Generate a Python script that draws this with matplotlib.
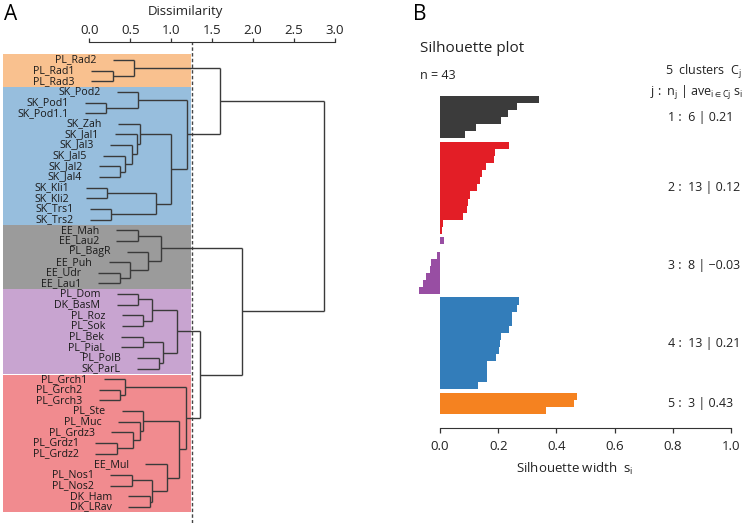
import matplotlib
matplotlib.use('Agg')
import matplotlib.pyplot as plt
from matplotlib.patches import Rectangle
import matplotlib.transforms as mtransforms

plt.rcParams['font.family'] = ['Open Sans', 'DejaVu Sans']
plt.rcParams['mathtext.fontset'] = 'custom'
plt.rcParams['mathtext.rm'] = 'Open Sans'
plt.rcParams['mathtext.it'] = 'Open Sans'
plt.rcParams['mathtext.bf'] = 'Open Sans'

# ---------------- Data: dendrogram (panel A) ----------------
leaf_labels = [
    "PL_Rad2", "PL_Rad1", "PL_Rad3",
    "SK_Pod2", "SK_Pod1", "SK_Pod1.1", "SK_Zah", "SK_Jal1", "SK_Jal3", "SK_Jal5",
    "SK_Jal2", "SK_Jal4", "SK_Kli1", "SK_Kli2", "SK_Trs1", "SK_Trs2",
    "EE_Mah", "EE_Lau2", "PL_BagR", "EE_Puh", "EE_Udr", "EE_Lau1",
    "PL_Dom", "DK_BasM", "PL_Roz", "PL_Sok", "PL_Bek", "PL_PiaL", "PL_PolB", "SK_ParL",
    "PL_Grch1", "PL_Grch2", "PL_Grch3", "PL_Ste", "PL_Muc", "PL_Grdz3", "PL_Grdz1",
    "PL_Grdz2", "EE_Mul", "PL_Nos1", "PL_Nos2", "DK_Ham", "DK_LRav",
]

# merges: (left, right, height); "#k" refers to the k-th merge
merges = [
    ("PL_Rad1", "PL_Rad3", 0.29),   # 0
    ("PL_Rad2", "#0", 0.55),        # 1
    ("SK_Pod1", "SK_Pod1.1", 0.21), # 2
    ("SK_Pod2", "#2", 0.60),        # 3
    ("SK_Jal2", "SK_Jal4", 0.38),   # 4
    ("SK_Jal5", "#4", 0.43),        # 5
    ("SK_Jal3", "#5", 0.52),        # 6
    ("SK_Jal1", "#6", 0.58),        # 7
    ("SK_Zah", "#7", 0.62),         # 8
    ("SK_Kli1", "SK_Kli2", 0.22),   # 9
    ("SK_Trs1", "SK_Trs2", 0.27),   # 10
    ("#9", "#10", 0.82),            # 11
    ("#8", "#11", 1.00),            # 12
    ("#3", "#12", 1.19),            # 13
    ("#1", "#13", 1.59),            # 14
    ("EE_Mah", "EE_Lau2", 0.59),    # 15
    ("EE_Udr", "EE_Lau1", 0.37),    # 16
    ("EE_Puh", "#16", 0.50),        # 17
    ("PL_BagR", "#17", 0.72),       # 18
    ("#15", "#18", 0.87),           # 19
    ("PL_Dom", "DK_BasM", 0.60),    # 20
    ("PL_Roz", "PL_Sok", 0.66),     # 21
    ("#20", "#21", 0.76),           # 22
    ("PL_Bek", "PL_PiaL", 0.65),    # 23
    ("PL_PolB", "SK_ParL", 0.85),   # 24
    ("#23", "#24", 0.90),           # 25
    ("#22", "#25", 1.07),           # 26
    ("PL_Grch2", "PL_Grch3", 0.38), # 27
    ("PL_Grch1", "#27", 0.44),      # 28
    ("PL_Grdz1", "PL_Grdz2", 0.34), # 29
    ("PL_Grdz3", "#29", 0.53),      # 30
    ("PL_Muc", "#30", 0.62),        # 31
    ("PL_Ste", "#31", 0.66),        # 32
    ("PL_Nos1", "PL_Nos2", 0.52),   # 33
    ("DK_Ham", "DK_LRav", 0.74),    # 34
    ("#33", "#34", 0.76),           # 35
    ("EE_Mul", "#35", 0.95),        # 36
    ("#32", "#36", 1.10),           # 37
    ("#28", "#37", 1.18),           # 38
    ("#26", "#38", 1.35),           # 39
    ("#19", "#39", 1.87),           # 40
    ("#14", "#40", 2.87),           # 41
]

cluster_sizes = [3, 13, 6, 8, 13]
cluster_bg = ["#F9C18F", "#97BEDD", "#9B9B9B", "#C8A4D0", "#F18B8F"]
cut_height = 1.25
hang = 0.265
dis_ticks = [0.0, 0.5, 1.0, 1.5, 2.0, 2.5, 3.0]

# ---------------- Data: silhouette (panel B) ----------------
sil_values = [
    [0.340, 0.266, 0.235, 0.210, 0.124, 0.086],
    [0.237, 0.189, 0.186, 0.158, 0.144, 0.137, 0.127, 0.103, 0.097, 0.094, 0.078, 0.011, 0.008],
    [0.015, 0.000, -0.011, -0.031, -0.034, -0.048, -0.060, -0.071],
    [0.272, 0.263, 0.248, 0.246, 0.238, 0.211, 0.206, 0.202, 0.191, 0.162, 0.162, 0.160, 0.131],
    [0.470, 0.462, 0.363],
]
sil_avg = [0.21, 0.12, -0.03, 0.21, 0.43]
sil_colors = ["#3B3B3B", "#E31E26", "#984EA3", "#337DBA", "#F58220"]
sil_ticks = [0.0, 0.2, 0.4, 0.6, 0.8, 1.0]

W, H = 749, 523
fig = plt.figure(figsize=(W / 100, H / 100), dpi=100)

# ================= Panel A =================
axA = fig.add_axes([0, 0, 370 / W, (H - 42) / H])
sx = 81.9   # px per unit
x0px = 89.3
axA.set_xlim(-x0px / sx, (370 - x0px) / sx)
sp = 10.64
axA.set_ylim((H - 60) / sp, (42 - 60) / sp)

# cluster backgrounds
start = 0
rect_left = -1.057
for i, (n, c) in enumerate(zip(cluster_sizes, cluster_bg)):
    top = start - 0.5 if i > 0 else start - 0.6
    bot = start + n - 0.5
    gap = 0.06 if i >= 3 else 0.0
    axA.add_patch(Rectangle((rect_left, top + gap), cut_height - 0.005 - rect_left, bot - top - gap,
                            facecolor=c, edgecolor='none', zorder=0))
    start += n

lc = '#3a3a3a'
lw = 1.0
nodes = {name: {'y': i, 'h': None} for i, name in enumerate(leaf_labels)}
for k, (a, b, h) in enumerate(merges):
    for c in (a, b):
        nd = nodes[c]
        if nd['h'] is None:
            xs = h - hang
            nd['start'] = xs
        else:
            xs = nd['h']
        axA.plot([xs, h], [nd['y'], nd['y']], color=lc, lw=lw, solid_capstyle='butt', zorder=2)
    axA.plot([h, h], [nodes[a]['y'], nodes[b]['y']], color=lc, lw=lw, solid_capstyle='butt', zorder=2)
    nodes['#%d' % k] = {'y': (nodes[a]['y'] + nodes[b]['y']) / 2, 'h': h}

for i, name in enumerate(leaf_labels):
    axA.text(nodes[name]['start'] - 0.2, i, name, ha='right', va='center',
             fontsize=7.7, color='#1a1a1a', zorder=3)

axA.axvline(cut_height, color='#444444', lw=1.0, linestyle=(0, (2.5, 1.6)), zorder=1)

for s in ['left', 'right', 'bottom']:
    axA.spines[s].set_visible(False)
axA.spines['top'].set_bounds(0, 3)
axA.spines['top'].set_color('#333333')
axA.xaxis.tick_top()
axA.xaxis.set_label_position('top')
axA.set_xticks(dis_ticks)
axA.set_xticklabels(['%.1f' % t for t in dis_ticks])
axA.tick_params(axis='x', direction='out', length=3.2, width=0.9, pad=0.3,
                labelsize=9.5, colors='#333333', labelcolor='#222222')
axA.set_yticks([])
axA.set_xlabel('Dissimilarity', fontsize=9.5, labelpad=6.5, color='#222222')
axA.patch.set_visible(False)

fig.text(4 / W, 1 - 15 / H, 'A', fontsize=15, ha='left', va='center')
fig.text(413 / W, 1 - 15 / H, 'B', fontsize=15, ha='left', va='center')

# ================= Panel B =================
axB = fig.add_axes([400 / W, (H - 427.7) / H, 349 / W, 427.7 / H])
ssx = 291.0
s0 = 440.0
axB.set_xlim((400 - s0) / ssx, (749 - s0) / ssx)
unit = 7.07
axB.set_ylim((427.7 - 96) / unit, -96 / unit)

start = 0.0
centers = []
for vals, col in zip(sil_values, sil_colors):
    ys = [start + i + 0.5 for i in range(len(vals))]
    axB.barh(ys, vals, height=1.0, left=0, color=col, edgecolor='none', linewidth=0)
    centers.append(start + len(vals) / 2)
    start += len(vals) + 0.5

trans = mtransforms.blended_transform_factory(fig.transFigure, axB.transData)
for j, (vals, avg, cy) in enumerate(zip(sil_values, sil_avg, centers)):
    txt = '%d :  %d | %s' % (j + 1, len(vals), ('%.2f' % avg).replace('-', '\u2212'))
    axB.text(668 / W, cy, txt, transform=trans, ha='left', va='center', fontsize=9, color='#222222')

for s in ['left', 'right', 'top']:
    axB.spines[s].set_visible(False)
axB.spines['bottom'].set_bounds(0, 1)
axB.spines['bottom'].set_color('#333333')
axB.set_xticks(sil_ticks)
axB.set_xticklabels(['%.1f' % t for t in sil_ticks])
axB.tick_params(axis='x', direction='out', length=3.6, width=0.9, pad=5,
                labelsize=9.5, colors='#333333', labelcolor='#222222')
axB.set_yticks([])
axB.set_xlabel(r'Silhouette width  s$_{\mathregular{i}}$', fontsize=9.5, labelpad=6, color='#222222')
axB.patch.set_visible(False)

fig.text(420 / W, 1 - 48 / H, 'Silhouette plot', fontsize=11, ha='left', va='center', color='#222222')
fig.text(420 / W, 1 - 75 / H, 'n = 43', fontsize=9, ha='left', va='center', color='#222222')
fig.text(742 / W, 1 - 72 / H, r'5  clusters  C$_{\mathregular{j}}$', fontsize=9, ha='right', va='center', color='#222222')
fig.text(743 / W, 1 - 93 / H, r'j :  n$_{\mathregular{j}}$ | ave$_{\mathregular{i \in Cj}}$ s$_{\mathregular{i}}$',
         fontsize=9, ha='right', va='center', color='#222222')

fig.savefig('out.png', dpi=100)
